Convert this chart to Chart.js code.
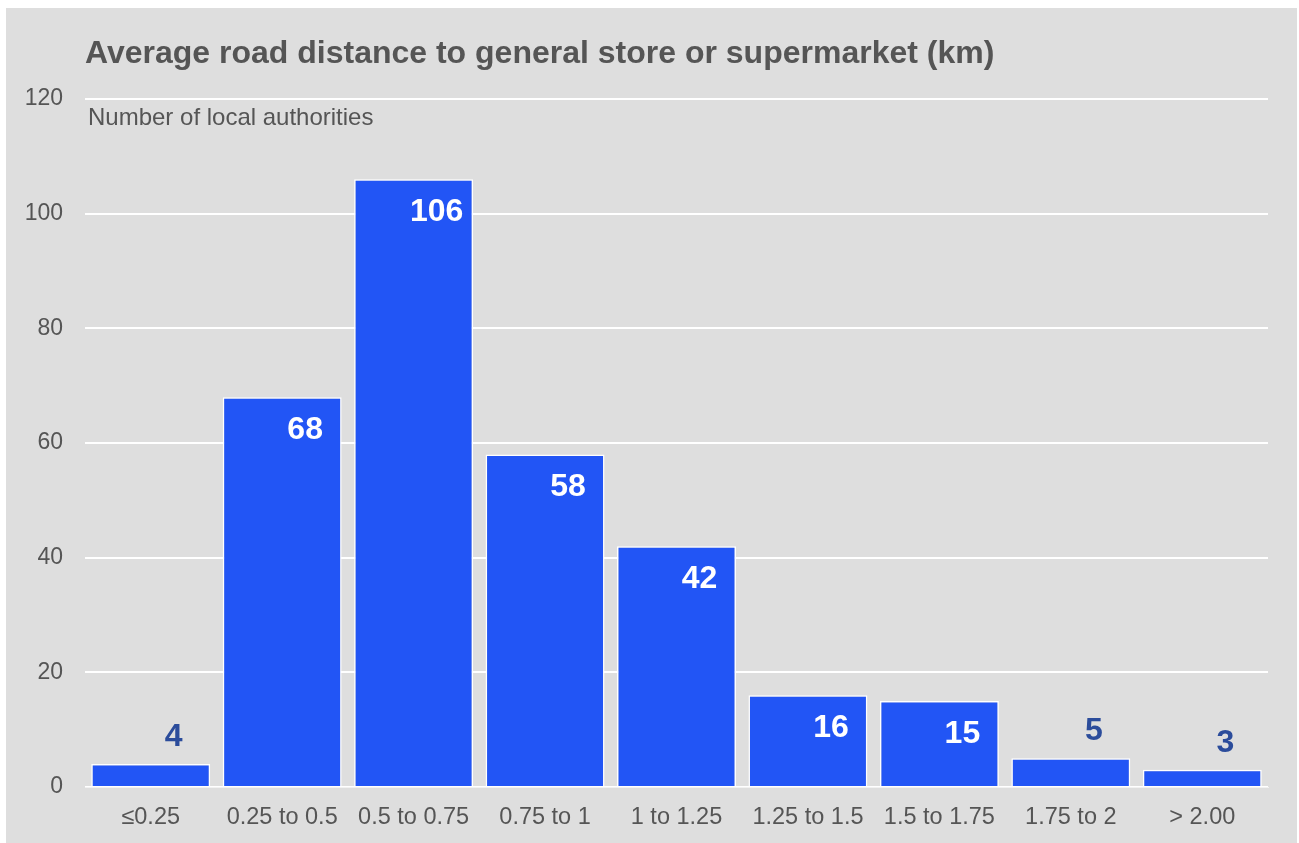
<!DOCTYPE html>
<html>
<head>
<meta charset="utf-8">
<script src="https://cdn.jsdelivr.net/npm/chart.js@4/dist/chart.umd.min.js"></script>
<style>
  html, body { margin: 0; padding: 0; background: #ffffff; }
  #wrap { position: absolute; left: 6px; top: 8px; width: 1291px; height: 835px; background: #dedede; }
  canvas { display: block; }
</style>
</head>
<body>
<div id="wrap"><canvas id="c" width="1291" height="835"></canvas></div>
<script>
const titleText = 'Average road distance to general store or supermarket (km)';
const yAxisNote = 'Number of local authorities';
const categories = ['\u22640.25', '0.25 to 0.5', '0.5 to 0.75', '0.75 to 1', '1 to 1.25', '1.25 to 1.5', '1.5 to 1.75', '1.75 to 2', '> 2.00'];
const counts = [4, 68, 106, 58, 42, 16, 15, 5, 3];
const yTicks = [0, 20, 40, 60, 80, 100, 120];

const FONT = "'Liberation Sans', Arial, Helvetica, sans-serif";
const GREY = '#555555';

const annotatePlugin = {
  id: 'annotate',
  afterDatasetsDraw(chart) {
    const ctx = chart.ctx;
    const area = chart.chartArea;
    ctx.save();
    // Title
    ctx.fillStyle = GREY;
    ctx.font = 'bold 32px ' + FONT;
    ctx.textAlign = 'left';
    ctx.textBaseline = 'middle';
    ctx.fillText(titleText, area.left, 46);
    // Axis note
    ctx.font = '24px ' + FONT;
    ctx.fillText(yAxisNote, area.left + 3, 110);
    // Value labels
    const meta = chart.getDatasetMeta(0);
    ctx.font = 'bold 32px ' + FONT;
    ctx.textAlign = 'center';
    meta.data.forEach((bar, i) => {
      const v = chart.data.datasets[0].data[i];
      const inside = (bar.base - bar.y) > 60;
      ctx.fillStyle = inside ? '#ffffff' : '#2b4c9b';
      const y = inside ? bar.y + 33 : bar.y - 27;
      ctx.fillText(String(v), bar.x + 23, y);
    });
    ctx.restore();
  }
};

new Chart(document.getElementById('c'), {
  type: 'bar',
  data: {
    labels: categories,
    datasets: [{
      data: counts,
      backgroundColor: '#2255f5',
      borderColor: '#ffffff',
      borderWidth: 1.5,
      barPercentage: 0.905,
      categoryPercentage: 1.0
    }]
  },
  options: {
    responsive: false,
    animation: false,
    devicePixelRatio: 1,
    layout: { padding: { left: 0, right: 29, top: 91, bottom: 0 } },
    plugins: {
      legend: { display: false },
      title: { display: false },
      tooltip: { enabled: false }
    },
    scales: {
      x: {
        grid: { display: false, drawTicks: false },
        border: { display: true, color: '#f2f2f2', width: 1 },
        ticks: { color: GREY, font: { family: FONT, size: 23.5 }, padding: 16, maxRotation: 0, autoSkip: false },
        afterFit(s) { s.height = 56; }
      },
      y: {
        min: 0,
        max: 120,
        afterBuildTicks(s) { s.ticks = yTicks.map(v => ({ value: v })); },
        grid: { color: '#ffffff', lineWidth: 2, drawTicks: false },
        border: { display: false },
        ticks: { color: GREY, font: { family: FONT, size: 23 }, padding: 22 },
        afterFit(s) { s.width = 79; }
      }
    }
  },
  plugins: [annotatePlugin]
});
</script>
</body>
</html>
